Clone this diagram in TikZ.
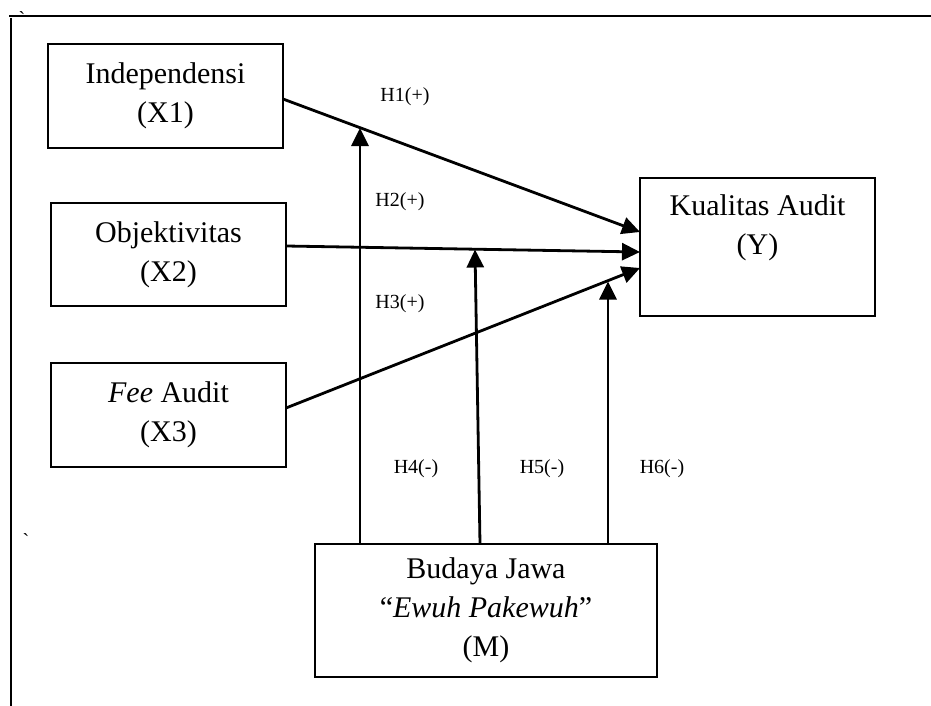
\documentclass[tikz,border=0pt]{standalone}
\usepackage{fontspec}
\setmainfont{Liberation Serif}
\usetikzlibrary{arrows.meta,calc}
\begin{document}
\begin{tikzpicture}[x=0.5pt,y=-0.5pt,
  box/.style={draw,line width=1pt,inner sep=0pt,outer sep=0pt,align=center,
    font=\fontsize{15pt}{19.5pt}\selectfont},
  boxtext/.style={align=center,inner sep=0pt,font=\fontsize{15pt}{19.5pt}\selectfont},
  hlabel/.style={inner sep=0pt,font=\fontsize{10pt}{12pt}\selectfont},
  arr/.style={line width=1.4pt,-{Triangle[length=9pt,width=8.5pt]}},
  frame/.style={line width=1.1pt},
  tick/.style={inner sep=0pt,font=\fontsize{10pt}{12pt}\selectfont}]
\useasboundingbox (0,0) rectangle (931,706);
% frame
\coordinate (ftl) at (9,16);
\coordinate (ftr) at (931,16);
\coordinate (fl1) at (11,18);
\coordinate (fl2) at (11,706);
\draw[frame] (ftl) -- (ftr);
\draw[frame,line width=1pt] (fl1) -- (fl2);
\node[tick] (t1) at (22,19) {\textasciigrave};
\node[tick] (t2) at (26,541) {\textasciigrave};
% boxes
\node[box,minimum width=117.5pt,minimum height=52pt] (x1) at (165.5,96) {Independensi\\(X1)};
\node[box,minimum width=117.5pt,minimum height=51.5pt] (x2) at (168.5,254.5) {Objektivitas\\(X2)};
\node[box,minimum width=117.5pt,minimum height=52pt] (x3) at (168.5,415) {\textit{Fee} Audit\\(X3)};
\node[box,minimum width=117.5pt,minimum height=69pt] (y) at (757.5,247) {};
\node[boxtext] (ytext) at (757.5,228) {Kualitas Audit\\(Y)};
\node[box,minimum width=171pt,minimum height=66.5pt] (m) at (486,610.5) {Budaya Jawa\\“\textit{Ewuh Pakewuh}”\\(M)};
% main arrows
\draw[arr] ($(x1.east)+(0,3)$) -- ($(y.west)+(0,-15)$);
\draw[arr] ($(x2.east)+(0,-8.5)$) -- ($(y.west)+(0,5)$);
\draw[arr] ($(x3.east)+(0,-7)$) -- ($(y.west)+(0,21)$);
% moderating arrows
\coordinate (h4e) at (360,128);
\coordinate (h5e) at (475,249.5);
\coordinate (h6e) at (608,281.5);
\draw[arr] ($(m.north)+(-126,0)$) -- (h4e);
\draw[arr] ($(m.north)+(-6,0)$) -- (h5e);
\draw[arr] ($(m.north)+(122,0)$) -- (h6e);
% labels
\node[hlabel] (l1) at (405,97) {H1(+)};
\node[hlabel] (l2) at (400,202) {H2(+)};
\node[hlabel] (l3) at (400,304) {H3(+)};
\node[hlabel] (l4) at (416,469) {H4(-)};
\node[hlabel] (l5) at (542,469) {H5(-)};
\node[hlabel] (l6) at (662,469) {H6(-)};
\end{tikzpicture}
\end{document}
